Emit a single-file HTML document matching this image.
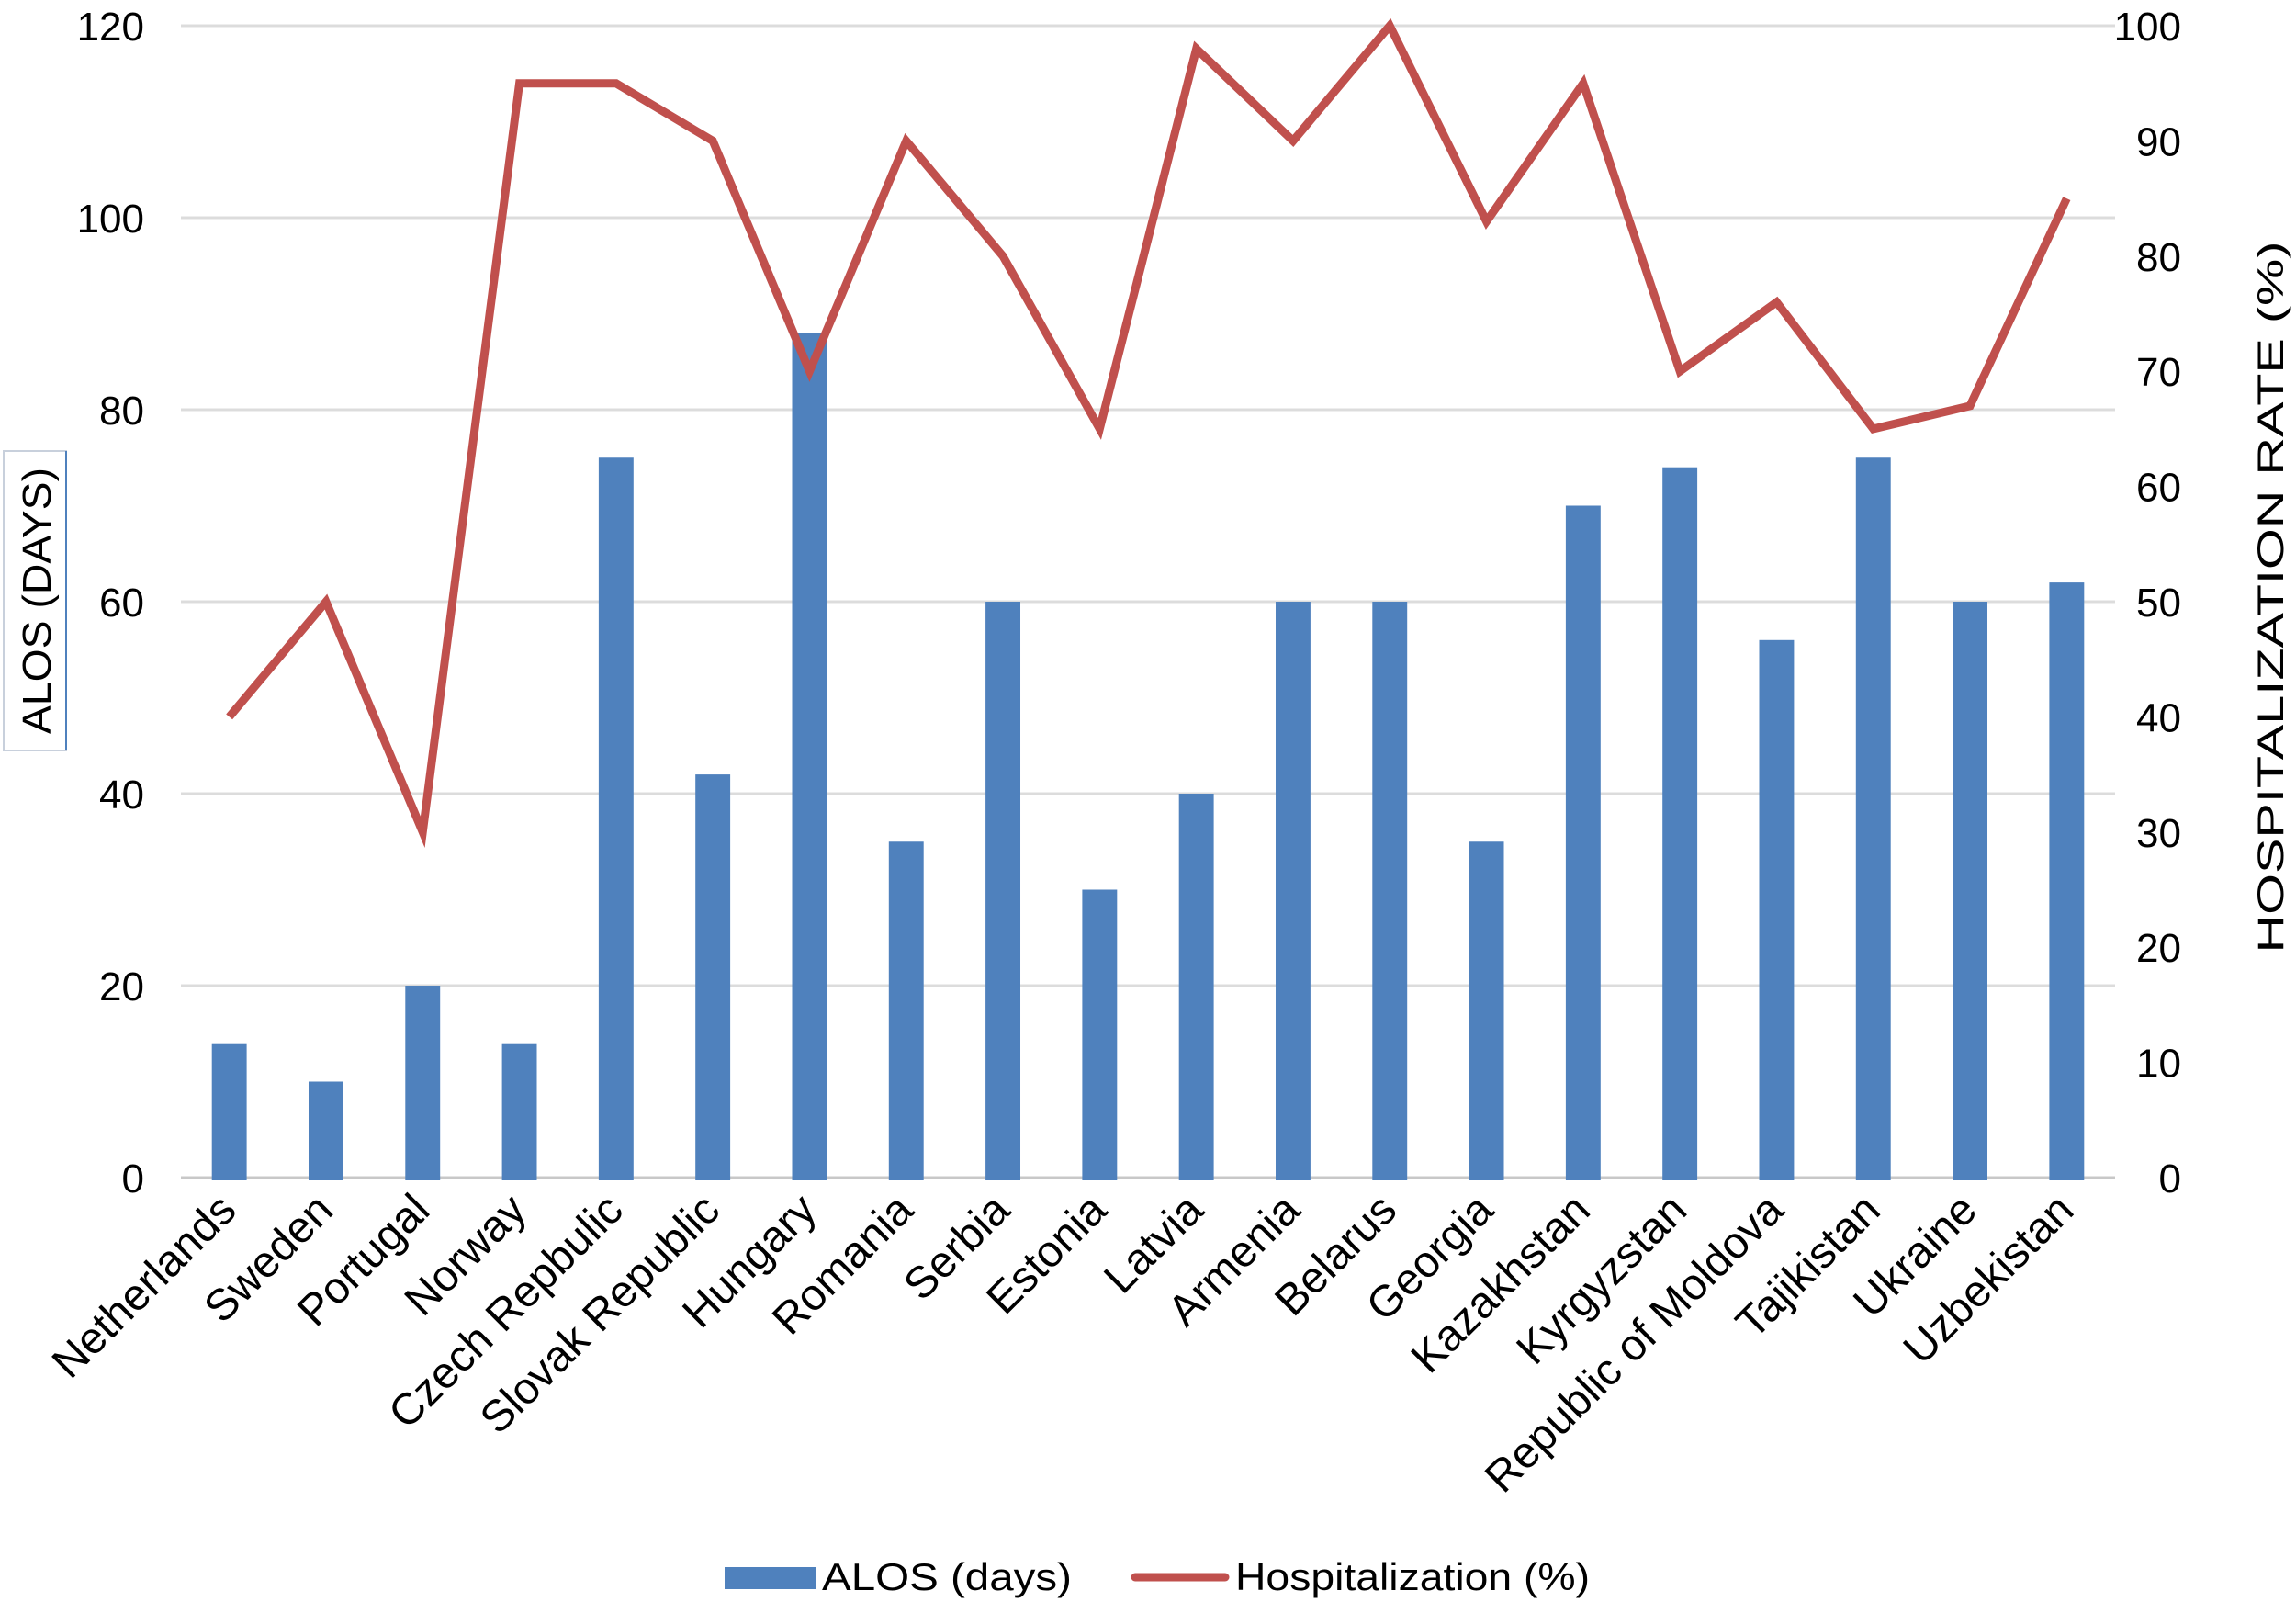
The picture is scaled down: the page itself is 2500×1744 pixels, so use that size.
<!DOCTYPE html>
<html><head><meta charset="utf-8"><style>
html,body{margin:0;padding:0;background:#fff;}
svg{display:block;font-family:"Liberation Sans",Arial,sans-serif;}
</style></head><body>
<svg id="chart" width="2500" height="1744" viewBox="0 0 2500 1744">
<g id="grid"></g>
<g id="bars"></g>
<g id="line"></g>
<g id="ly"></g>
<g id="ry"></g>
<g id="xl"></g>
<g>
<rect x="4" y="491" width="68" height="326" fill="none" stroke="#c8d0dc" stroke-width="2"/>
<line x1="72" y1="491" x2="72" y2="817" stroke="#4f81bd" stroke-width="2"/>
<text x="0" y="0" transform="translate(55,654) rotate(-90)" text-anchor="middle" font-size="44" fill="#000" textLength="290" lengthAdjust="spacingAndGlyphs">ALOS (DAYS)</text>
</g>
<text x="0" y="0" transform="translate(2486,650) rotate(-90)" text-anchor="middle" font-size="40" fill="#000" textLength="775" lengthAdjust="spacingAndGlyphs">HOSPITALIZATION RATE (%)</text>
<g>
<g>
<rect x="789" y="1706" width="100" height="24" fill="#4f81bd"/>
<text x="895" y="1731" font-size="42" fill="#000" textLength="272" lengthAdjust="spacingAndGlyphs">ALOS (days)</text>
</g>
<g>
<line x1="1236" y1="1717" x2="1334" y2="1717" stroke="#c0504d" stroke-width="9" stroke-linecap="round"/>
<text x="1345" y="1731" font-size="42" fill="#000" textLength="386" lengthAdjust="spacingAndGlyphs">Hospitalization (%)</text>
</g>
</g>
</svg>
<script>
const categories = ["Netherlands","Sweden","Portugal","Norway","Czech Repbulic","Slovak Republic","Hungary","Romania","Serbia","Estonia","Latvia","Armenia","Belarus","Georgia","Kazakhstan","Kyrgyzstan","Republic of Moldova","Tajikistan","Ukraine","Uzbekistan"];
const alos = [14,10,20,14,75,42,88,35,60,30,40,60,60,35,70,74,56,75,60,62];
const hosp = [40,50,30,95,95,90,70,90,80,65,98,90,100,83,95,70,76,65,67,85];
const leftTicks = [0,20,40,60,80,100,120];
const rightTicks = [0,10,20,30,40,50,60,70,80,90,100];

const NS="http://www.w3.org/2000/svg";
const X0=197, X1=2303, Y0=1282, YT=28;
const band=(X1-X0)/categories.length;
function xc(i){return X0+band*(i+0.5);}
function yL(v){return Y0-(Y0-YT)*v/120;}
function yR(v){return Y0-(Y0-YT)*v/100;}
function mk(tag,attrs,parent){const e=document.createElementNS(NS,tag);for(const k in attrs)e.setAttribute(k,attrs[k]);parent.appendChild(e);return e;}
const grid=document.getElementById('grid'),bars=document.getElementById('bars'),line=document.getElementById('line'),ly=document.getElementById('ly'),ry=document.getElementById('ry'),xl=document.getElementById('xl');
leftTicks.forEach(t=>{
  const g=mk('line',{x1:X0,x2:X1,y1:yL(t),y2:yL(t),stroke:t===0?'#c8c8c8':'#dcdcdc','stroke-width':3},grid);
  
  
  const tx=mk('text',{x:157,y:yL(t)+16,'text-anchor':'end','font-size':44,fill:'#000'},ly);
  tx.textContent=t;
  
  
});
rightTicks.forEach(t=>{
  const tx=mk('text',{x:2375,y:yR(t)+16,'text-anchor':'end','font-size':44,fill:'#000'},ry);
  tx.textContent=t;
  
  
});
const bw=band*0.36;
alos.forEach((v,i)=>{
  const r=mk('rect',{x:xc(i)-bw/2,y:yL(v),width:bw,height:Y0-yL(v)+3,fill:'#4f81bd'},bars);
  
  
});
const pts=hosp.map((v,i)=>xc(i)+','+yR(v)).join(' ');
const pl=mk('polyline',{points:pts,fill:'none',stroke:'#c0504d','stroke-width':9,'stroke-linejoin':'miter','stroke-miterlimit':4},line);


categories.forEach((c,i)=>{
  const x=xc(i)+10,y=Y0+38;
  const t=mk('text',{x:0,y:0,transform:'translate('+x+','+y+') rotate(-45)','text-anchor':'end','font-size':48,fill:'#000'},xl);
  t.textContent=c;
  
  
});
</script>
</body></html>
